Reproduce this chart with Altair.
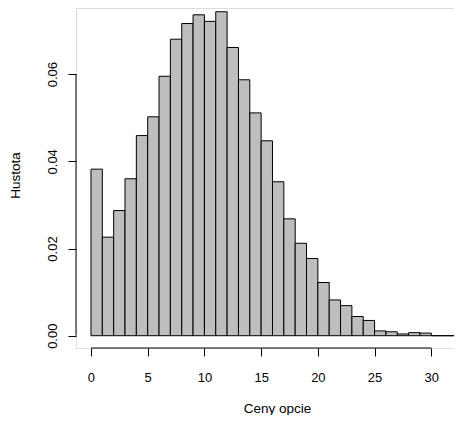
import altair as alt
import pandas as pd

# Histogram bins (width 1) and densities
bin_starts = list(range(33))
densities = [0.0382, 0.0226, 0.0287, 0.0360, 0.0459, 0.0502, 0.0595, 0.0680,
             0.0716, 0.0736, 0.0721, 0.0743, 0.0661, 0.0587, 0.0511, 0.0447,
             0.0353, 0.0268, 0.0212, 0.0177, 0.0122, 0.0082, 0.0069, 0.0044,
             0.0035, 0.0011, 0.0009, 0.0004, 0.0007, 0.0006, 0.0, 0.0, 0.0002]
x_ticks = [0, 5, 10, 15, 20, 25, 30]
y_ticks = [0.0, 0.02, 0.04, 0.06]

df = pd.DataFrame({
    "start": bin_starts,
    "end": [b + 1 for b in bin_starts],
    "density": densities,
})

FONT = "Liberation Sans"

xscale = alt.Scale(domain=[-1.32, 32.0], nice=False, zero=False)
yscale = alt.Scale(domain=[-0.00282, 0.07516], nice=False, zero=False)

label_expr = "format(datum.value, '.2f')"

bars = alt.Chart(df).mark_rect(
    fill="#BEBEBE", stroke="black", strokeWidth=1, clip=True
).encode(
    x=alt.X("start:Q", scale=xscale,
            axis=alt.Axis(values=x_ticks, domain=False, grid=False, tickSize=8,
                          tickColor="black", tickWidth=1, labelFont=FONT,
                          labelFontSize=13, labelColor="black", labelPadding=15,
                          labelBaseline="top", labelFlush=False,
                          title="Ceny opcie", titleFont=FONT, titleFontSize=13.5,
                          titleFontWeight="normal", titleColor="black",
                          titleX=201, titleY=64, titleBaseline="alphabetic",
                          titleAlign="center")),
    x2="end:Q",
    y=alt.Y("density:Q", scale=yscale,
            axis=alt.Axis(values=y_ticks, domain=False, grid=False, tickSize=8,
                          tickColor="black", tickWidth=1, labelFont=FONT,
                          labelFontSize=13, labelColor="black", labelPadding=12,
                          labelAngle=-90, labelAlign="center",
                          labelBaseline="alphabetic", labelFlush=False,
                          labelExpr=label_expr,
                          title="Hustota", titleFont=FONT, titleFontSize=13.5,
                          titleFontWeight="normal", titleColor="black",
                          titleX=-57, titleY=167, titleAngle=270,
                          titleBaseline="alphabetic", titleAlign="center")),
    y2=alt.datum(0),
)

yaxis_line = alt.Chart(pd.DataFrame({"a": [0]})).mark_rule(
    color="black", strokeWidth=1
).encode(x=alt.value(0), y=alt.datum(0.0, scale=yscale), y2=alt.datum(0.06))

xaxis_line = alt.Chart(pd.DataFrame({"a": [0]})).mark_rule(
    color="black", strokeWidth=1
).encode(y=alt.value(340), x=alt.datum(0, scale=xscale), x2=alt.datum(30))

chart = alt.layer(bars, yaxis_line, xaxis_line).properties(
    width=378, height=340,
    autosize=alt.AutoSizeParams(type="none"),
    padding={"left": 68, "top": 0, "right": 0, "bottom": 67},
).configure_view(stroke=None).configure(background="white")

chart.save("out.html", embed_options={"renderer": "svg", "actions": False})
